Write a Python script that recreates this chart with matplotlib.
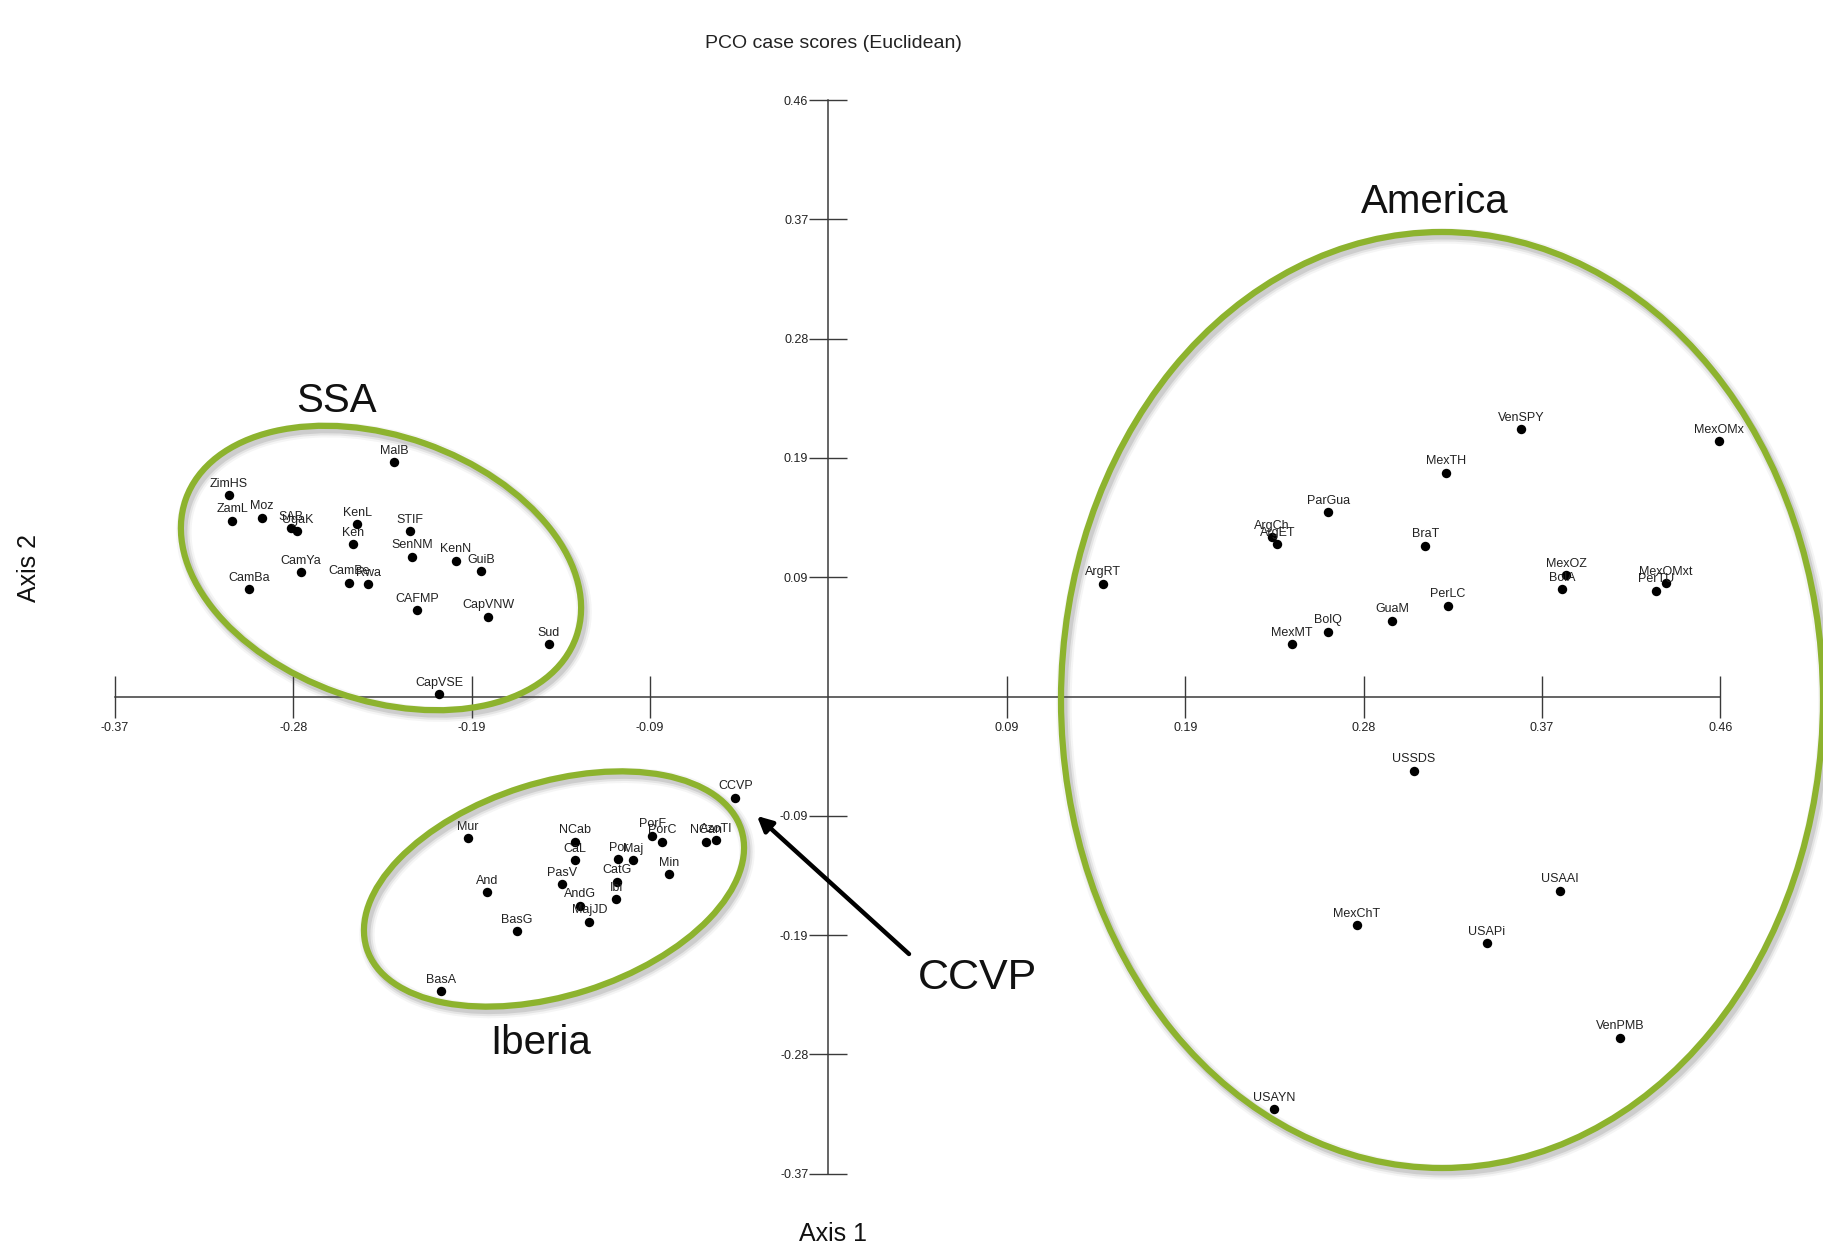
import matplotlib
matplotlib.use("Agg")
import matplotlib.pyplot as plt
from matplotlib.patches import Ellipse

plt.rcParams['font.family'] = ['Liberation Sans', 'DejaVu Sans']

# ---- PCO case scores -------------------------------------------------------
ssa_names = ["MalB", "ZimHS", "ZamL", "Moz", "SAB", "UgaK", "KenL", "Ken", "STIF",
             "SenNM", "KenN", "GuiB", "CamYa", "CamBa", "CamBe", "Rwa", "CAFMP",
             "CapVNW", "Sud", "CapVSE"]
ssa_x = [-0.2251, -0.3109, -0.3091, -0.2937, -0.2788, -0.2754, -0.2443, -0.2465, -0.2169,
         -0.2157, -0.1931, -0.1800, -0.2736, -0.3003, -0.2484, -0.2387, -0.2132,
         -0.1765, -0.1449, -0.2019]
ssa_y = [0.1816, 0.1562, 0.1363, 0.1386, 0.1304, 0.1283, 0.1337, 0.1180, 0.1283,
         0.1084, 0.1053, 0.0973, 0.0963, 0.0831, 0.0882, 0.0870, 0.0671,
         0.0619, 0.0407, 0.0019]

iberia_names = ["CCVP", "Mur", "NCab", "CaL", "PorF", "PorC", "Por", "Maj", "Min",
                "CatG", "Ibi", "PasV", "AndG", "MajJD", "And", "BasG", "BasA",
                "NCan", "AzoTI"]
iberia_x = [-0.0483, -0.1870, -0.1312, -0.1314, -0.0913, -0.0861, -0.1089, -0.1012, -0.0828,
            -0.1096, -0.1100, -0.1381, -0.1288, -0.1240, -0.1772, -0.1615, -0.2009,
            -0.0635, -0.0583]
iberia_y = [-0.0785, -0.1099, -0.1126, -0.1268, -0.1079, -0.1126, -0.1262, -0.1268, -0.1379,
            -0.1436, -0.1570, -0.1454, -0.1622, -0.1746, -0.1516, -0.1821, -0.2286,
            -0.1126, -0.1113]

america_names = ["ArgRT", "ArgCh", "ArgET", "ParGua", "BraT", "MexMT", "BolQ", "GuaM",
                 "VenSPY", "MexOMx", "MexTH", "PerLC", "MexOZ", "BolA", "MexOMxt",
                 "PerTU", "USSDS", "USAAI", "MexChT", "USAPi", "VenPMB", "USAYN"]
america_x = [0.1422, 0.2299, 0.2328, 0.2592, 0.3095, 0.2404, 0.2589, 0.2924,
             0.3590, 0.4619, 0.3202, 0.3211, 0.3825, 0.3805, 0.4341,
             0.4291, 0.3036, 0.3792, 0.2739, 0.3415, 0.4106, 0.2310]
america_y = [0.0875, 0.1234, 0.1180, 0.1431, 0.1169, 0.0407, 0.0502, 0.0588,
             0.2072, 0.1979, 0.1735, 0.0704, 0.0942, 0.0834, 0.0878,
             0.0820, -0.0575, -0.1506, -0.1772, -0.1914, -0.2646, -0.3198]

# Axis ticks: uniform step, printed rounded to two decimals
tick_step = 0.0925
x_tick_steps = [-4, -3, -2, -1, 1, 2, 3, 4, 5]
x_tick_labels = ["-0.37", "-0.28", "-0.19", "-0.09", "0.09", "0.19", "0.28", "0.37", "0.46"]
y_tick_steps = [-4, -3, -2, -1, 1, 2, 3, 4, 5]
y_tick_labels = ["-0.37", "-0.28", "-0.19", "-0.09", "0.09", "0.19", "0.28", "0.37", "0.46"]

W, H = 1824, 1247
fig = plt.figure(figsize=(W / 100, H / 100), dpi=100)
fig.patch.set_facecolor('white')

ax = fig.add_axes([0, 0, 1, 1])
ax.set_xlim(-0.42954, 0.51623)
ax.set_ylim(-0.42684, 0.54005)
ax.patch.set_alpha(0)

axis_col = '#3a3a3a'
for side in ('top', 'right'):
    ax.spines[side].set_visible(False)
for side in ('left', 'bottom'):
    ax.spines[side].set_position(('data', 0))
    ax.spines[side].set_color(axis_col)
    ax.spines[side].set_linewidth(1.1)
ax.spines['bottom'].set_bounds(-4 * tick_step, 5 * tick_step)
ax.spines['left'].set_bounds(-4 * tick_step, 5 * tick_step)

ax.set_xticks([s * tick_step for s in x_tick_steps])
ax.set_xticklabels(x_tick_labels)
ax.set_yticks([s * tick_step for s in y_tick_steps])
ax.set_yticklabels(y_tick_labels)
ax.tick_params(axis='x', direction='inout', length=30, width=1.0, pad=3,
               labelsize=9, colors=axis_col, labelcolor='#222222')
ax.tick_params(axis='y', direction='inout', length=27, width=1.0, pad=1,
               labelsize=9, colors=axis_col, labelcolor='#222222')

# Points and their labels
for names, xs, ys in ((ssa_names, ssa_x, ssa_y),
                      (iberia_names, iberia_x, iberia_y),
                      (america_names, america_x, america_y)):
    ax.scatter(xs, ys, s=46, color='black', zorder=5, linewidths=0)
    for n, x, y in zip(names, xs, ys):
        ax.annotate(n, (x, y), xytext=(0, 6), textcoords='offset points',
                    ha='center', va='baseline', fontsize=9, color='#222222', zorder=6)

# Group outlines, group names and the pointer arrow, laid out in pixel space
ov = fig.add_axes([0, 0, 1, 1])
ov.set_xlim(0, W)
ov.set_ylim(H, 0)
ov.axis('off')
ov.patch.set_alpha(0)

green = '#8db32e'
groups = [
    # centre x, centre y, width, height, angle
    (381, 568, 414, 264, 19.4),
    (554, 889, 393, 213, -17.6),
    (1442, 700, 762, 936, 0.0),
]
for cx, cy, w, h, ang in groups:
    for k, (lw, a) in enumerate(((11, 0.06), (8, 0.10), (5, 0.16))):
        ov.add_patch(Ellipse((cx + 3, cy + 4), w, h, angle=ang, fill=False,
                             edgecolor='#555555', lw=lw, alpha=a, zorder=1))
    ov.add_patch(Ellipse((cx, cy), w, h, angle=ang, fill=False,
                         edgecolor=green, lw=4.5, zorder=2))

ov.text(336, 401, "SSA", fontsize=29, ha='center', va='center', color='#111111')
ov.text(1435, 202, "America", fontsize=29, ha='center', va='center', color='#111111')
ov.text(541, 1043, "Iberia", fontsize=29, ha='center', va='center', color='#111111')
ov.text(978, 978, "CCVP", fontsize=31, ha='center', va='center', color='#111111')

ov.annotate("", xy=(757, 816), xytext=(909, 954),
            arrowprops=dict(arrowstyle='-|>,head_length=0.9,head_width=0.45',
                            lw=3.2, color='black', shrinkA=0, shrinkB=0))

fig.text(833 / W, 1 - 43 / H, "PCO case scores (Euclidean)", fontsize=14,
         ha='center', va='center', color='#222222')
fig.text(833 / W, 1 - 1234 / H, "Axis 1", fontsize=18,
         ha='center', va='center', color='#111111')
fig.text(29 / W, 1 - 568 / H, "Axis 2", fontsize=18, rotation=90,
         ha='center', va='center', color='#111111')

fig.savefig("out.png", dpi=100, facecolor='white')
